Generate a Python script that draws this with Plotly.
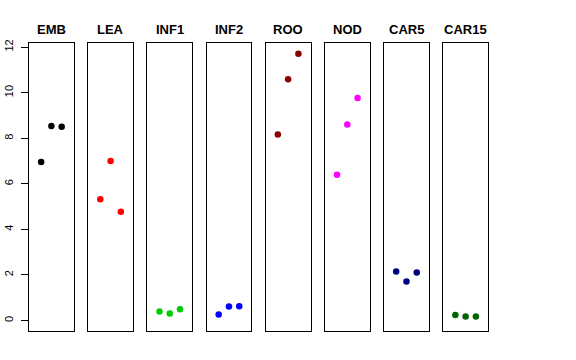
import plotly.graph_objects as go

categories = ["EMB", "LEA", "INF1", "INF2", "ROO", "NOD", "CAR5", "CAR15"]
replicate = [1, 2, 3]
emb = [6.96, 8.54, 8.50]
lea = [5.32, 7.00, 4.77]
inf1 = [0.40, 0.31, 0.50]
inf2 = [0.26, 0.61, 0.63]
roo = [8.16, 10.59, 11.71]
nod = [6.40, 8.60, 9.77]
car5 = [2.15, 1.71, 2.11]
car15 = [0.24, 0.18, 0.18]
values = [emb, lea, inf1, inf2, roo, nod, car5, car15]
colors = ["#000000", "#FF0000", "#00CD00", "#0000FF", "#8B0000", "#FF00FF", "#000080", "#006400"]
y_ticks = [0, 2, 4, 6, 8, 10, 12]

W, H = 576, 360
ml, mr, mt, mb = 29, 88, 43, 29
pw = W - ml - mr
step = 59.18
panel_w = 44.8

fig = go.Figure()
layout = dict(
    width=W, height=H,
    margin=dict(l=ml, r=mr, t=mt, b=mb, pad=0, autoexpand=False),
    paper_bgcolor="white", plot_bgcolor="white",
    showlegend=False,
    font=dict(family="Liberation Sans, Arial, sans-serif", color="black"),
    annotations=[],
)
for i, (cat, vals, col) in enumerate(zip(categories, values, colors)):
    n = "" if i == 0 else str(i + 1)
    fig.add_trace(go.Scatter(
        x=replicate, y=vals, mode="markers",
        marker=dict(color=col, size=6.5, line=dict(width=0)),
        xaxis="x" + n, yaxis="y" + n, hoverinfo="skip",
    ))
    d0 = step * i / pw
    d1 = min(1.0, (step * i + panel_w) / pw)
    layout["xaxis" + n] = dict(
        domain=[d0, d1], range=[-0.18, 4.18], showgrid=False, zeroline=False,
        showticklabels=False, ticks="", showline=True, mirror=True,
        linecolor="black", linewidth=1, anchor="y" + n, fixedrange=True,
        automargin=False,
    )
    yax = dict(
        range=[-0.46, 12.18], showgrid=False, zeroline=False,
        showline=True, mirror=True, linecolor="black", linewidth=1,
        anchor="x" + n, fixedrange=True, automargin=False,
    )
    if i == 0:
        yax.update(tickvals=y_ticks, ticktext=[str(v) for v in y_ticks],
                   ticks="outside", ticklen=7, tickcolor="black", tickwidth=1,
                   tickangle=-90, ticklabelstandoff=4,
                   tickfont=dict(size=11, color="black"))
    else:
        yax.update(showticklabels=False, ticks="")
    layout["yaxis" + n] = yax
    layout["annotations"].append(dict(
        text="<b>%s</b>" % cat, x=(d0 + d1) / 2, y=1, xref="paper", yref="paper",
        xanchor="center", yanchor="bottom", yshift=4, showarrow=False,
        font=dict(size=13, color="black"),
    ))

fig.update_layout(**layout)
fig.write_html(
    "out.html",
    config={"displayModeBar": False},
    post_script="document.body.style.margin='0';document.body.style.padding='0';",
)
